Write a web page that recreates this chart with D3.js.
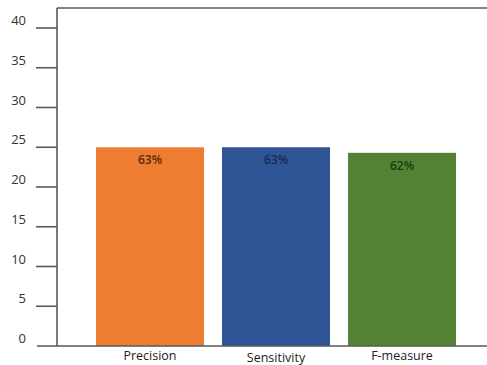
<!DOCTYPE html>
<html>
<head>
<meta charset="utf-8">
<script src="https://cdn.jsdelivr.net/npm/d3@7"></script>
<style>
  html, body { margin: 0; padding: 0; background: #fff; }
  svg { display: block; }
</style>
</head>
<body>
<svg id="chart" width="487" height="365"></svg>
<script>
// Chart data
const categories = ["Precision", "Sensitivity", "F-measure"];
const values = [25, 25, 24.3];
const valueLabels = ["63%", "63%", "62%"];
const barColors = ["#ED7D31", "#2F5597", "#548235"];
const labelColors = ["#5a2a0c", "#172a4e", "#1e3a12"];
const yTicks = [0, 5, 10, 15, 20, 25, 30, 35, 40];

const svg = d3.select("#chart");
const font = "'Open Sans', 'DejaVu Sans', sans-serif";

const axisX = 57;
const y = d3.scaleLinear().domain([0, 40]).range([346, 28]);
const x = d3.scaleBand()
  .domain(categories)
  .range([87, 465])
  .paddingInner(0.143)
  .paddingOuter(0.0714);

// Bars
svg.selectAll("rect.bar")
  .data(categories)
  .join("rect")
  .attr("class", "bar")
  .attr("x", d => x(d))
  .attr("width", x.bandwidth())
  .attr("y", (d, i) => y(values[i]))
  .attr("height", (d, i) => y(0) - y(values[i]))
  .attr("fill", (d, i) => barColors[i]);

// Value labels inside bars
svg.selectAll("text.val")
  .data(categories)
  .join("text")
  .attr("class", "val")
  .attr("x", d => x(d) + x.bandwidth() / 2)
  .attr("y", (d, i) => y(values[i]) + 17)
  .attr("text-anchor", "middle")
  .attr("font-family", font)
  .attr("font-size", 12)
  .attr("font-weight", 600)
  .attr("fill", (d, i) => labelColors[i])
  .text((d, i) => valueLabels[i]);

// Frame: left axis, top border, baseline
const lineColor = "#595959";
svg.append("line")
  .attr("x1", axisX).attr("x2", axisX)
  .attr("y1", 8).attr("y2", y(0))
  .attr("stroke", lineColor).attr("stroke-width", 1.6);
svg.append("line")
  .attr("x1", axisX).attr("x2", 487)
  .attr("y1", 8).attr("y2", 8)
  .attr("stroke", lineColor).attr("stroke-width", 1.6);
svg.append("line")
  .attr("x1", 37).attr("x2", 487)
  .attr("y1", y(0)).attr("y2", y(0))
  .attr("stroke", lineColor).attr("stroke-width", 1.6);

// Y ticks and labels
const yAxis = svg.append("g");
yAxis.selectAll("line")
  .data(yTicks.filter(t => t > 0))
  .join("line")
  .attr("x1", 36).attr("x2", axisX)
  .attr("y1", d => y(d)).attr("y2", d => y(d))
  .attr("stroke", lineColor).attr("stroke-width", 1.6);
yAxis.selectAll("text")
  .data(yTicks)
  .join("text")
  .attr("x", 26)
  .attr("y", d => y(d) - 3)
  .attr("text-anchor", "end")
  .attr("font-family", font)
  .attr("font-size", 13)
  .attr("fill", "#333")
  .text(d => d);

// Category labels
svg.selectAll("text.cat")
  .data(categories)
  .join("text")
  .attr("class", "cat")
  .attr("x", d => x(d) + x.bandwidth() / 2)
  .attr("y", (d, i) => i === 1 ? 362 : 360)
  .attr("text-anchor", "middle")
  .attr("font-family", font)
  .attr("font-size", 12.5)
  .attr("fill", "#222")
  .text(d => d);
</script>
</body>
</html>
